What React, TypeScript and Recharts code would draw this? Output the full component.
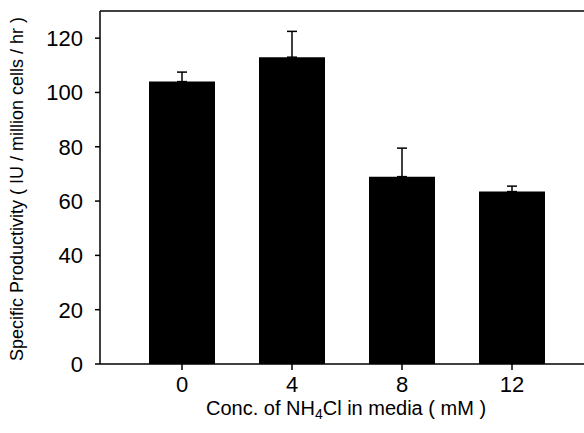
import React from 'react';
import { BarChart, Bar, XAxis, YAxis, ErrorBar, ReferenceLine, Label } from 'recharts';

const categories = ['0', '4', '8', '12'];
const productivity = [104, 113, 69, 63.5];
const errorUp = [3.5, 9.5, 10.5, 2];
const yTicks = [0, 20, 40, 60, 80, 100, 120];

const data = categories.map((c, i) => ({ conc: c, value: productivity[i], err: [0, errorUp[i]] }));

const FONT = '"Liberation Sans", Arial, sans-serif';

const XTitle = (props: any) => {
  const vb = props.viewBox;
  const cx = vb.x + vb.width / 2 + 4;
  return (
    <text x={cx} y={vb.y + 51} textAnchor="middle" fontFamily={FONT} fontSize={20} fill="#000">
      Conc. of NH<tspan fontSize={14} dy={4}>4</tspan>
      <tspan dy={-4}>Cl in media ( mM )</tspan>
    </text>
  );
};

const YTitle = () => (
  <text
    x={17}
    y={189}
    transform="rotate(-90 17 189)"
    textAnchor="middle"
    dominantBaseline="central"
    fontFamily={FONT}
    fontSize={18}
    fill="#000"
  >
    Specific Productivity ( IU / million cells / hr )
  </text>
);

export default function App() {
  return (
    <div style={{ position: 'absolute', left: 0, top: 0, width: 584, height: 433, background: '#fff' }}>
      <BarChart width={584} height={433} data={data} margin={{ top: 11, right: 0, bottom: 0, left: 0 }}>
        <XAxis
          dataKey="conc"
          height={69}
          padding={{ left: 27, right: 17 }}
          tickSize={6}
          tickMargin={6}
          axisLine={{ stroke: '#000', strokeWidth: 1.5 }}
          tickLine={{ stroke: '#000', strokeWidth: 1.5 }}
          tick={{ fill: '#000', fontSize: 22, fontFamily: FONT }}
        >
          <Label content={XTitle} />
        </XAxis>
        <YAxis
          width={100}
          domain={[0, 130]}
          ticks={yTicks}
          tickSize={5}
          tickMargin={12}
          axisLine={{ stroke: '#000', strokeWidth: 1.5 }}
          tickLine={{ stroke: '#000', strokeWidth: 1.5 }}
          tick={{ fill: '#000', fontSize: 22, fontFamily: FONT }}
        >
          <Label content={YTitle} />
        </YAxis>
        <ReferenceLine y={130} stroke="#000" strokeWidth={1.5} />
        <Bar dataKey="value" fill="#000" barSize={66} isAnimationActive={false}>
          <ErrorBar dataKey="err" width={5} stroke="#000" strokeWidth={1.5} />
        </Bar>
      </BarChart>
    </div>
  );
}
